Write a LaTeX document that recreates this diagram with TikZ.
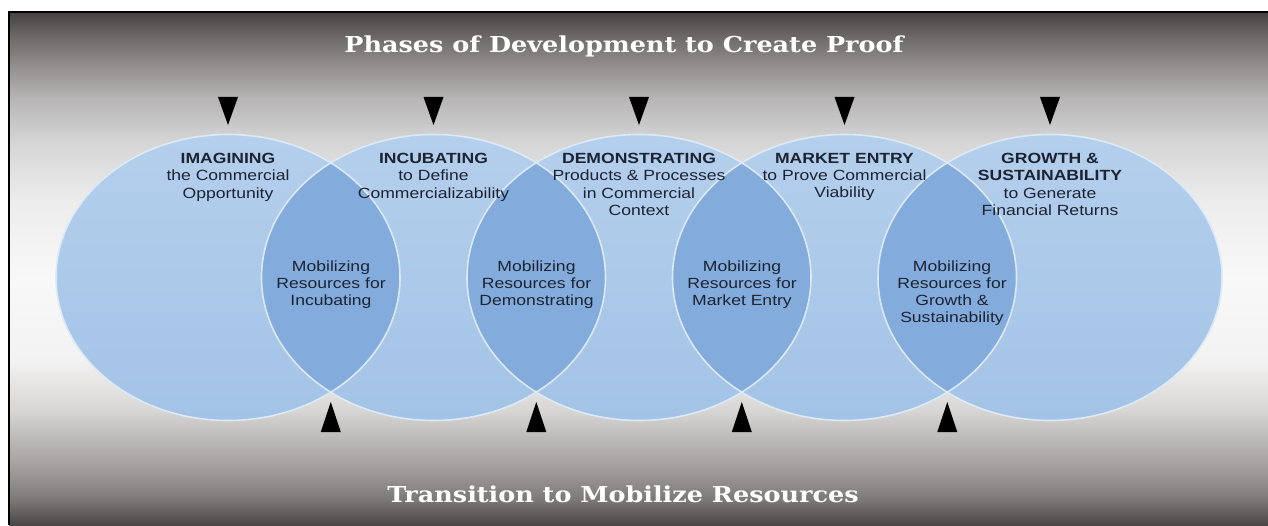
\documentclass[tikz,border=0pt]{standalone}
\usepackage{fontspec}
\setmainfont{Liberation Sans}[FakeStretch=1.19]
\newfontfamily\titlefont{DejaVu Serif}[FakeStretch=1.16]
\usepackage{xcolor}
\usetikzlibrary{calc, positioning}

\definecolor{bg0}{HTML}{4A4646}
\definecolor{bg1}{HTML}{7C7878}
\definecolor{bg2}{HTML}{A09C9C}
\definecolor{bg3}{HTML}{BAB8B6}
\definecolor{bg4}{HTML}{D8D6D4}
\definecolor{bg5}{HTML}{F2F2F2}
\definecolor{bg6}{HTML}{F8F8F8}
\definecolor{bg7}{HTML}{ECECEC}
\definecolor{bg8}{HTML}{D4D4D4}
\definecolor{bg9}{HTML}{B8B6B6}
\definecolor{bg10}{HTML}{979393}
\definecolor{bg11}{HTML}{726E6E}
\definecolor{bg12}{HTML}{464242}
\definecolor{phasetop}{HTML}{B4CFEC}
\definecolor{phasebot}{HTML}{A3C3E6}
\definecolor{lensblue}{HTML}{83ACDC}
\definecolor{rimc}{HTML}{DCE9F6}
\definecolor{inkc}{HTML}{1C2433}

\pgfdeclareverticalshading{backdrop}{100bp}{color(0bp)=(bg0); color(25bp)=(bg0);
  color(27.44bp)=(bg1); color(30.36bp)=(bg2); color(33.28bp)=(bg3);
  color(36.21bp)=(bg4); color(41.08bp)=(bg5); color(48.88bp)=(bg6);
  color(56.68bp)=(bg7); color(62.52bp)=(bg8); color(66.42bp)=(bg9);
  color(69.35bp)=(bg10); color(72.27bp)=(bg11); color(75bp)=(bg12); color(100bp)=(bg12)}

\tikzset{
    phase/.style={top color=phasetop, bottom color=phasebot},
    lens/.style={fill=lensblue},
    rim/.style={draw=rimc, line width=0.9pt},
    marker/.style={fill=black},
    frame/.style={draw=black, line width=1.2pt},
    phasetext/.style={align=center, font=\fontsize{8.4}{9.8}\selectfont, text=inkc, inner sep=0pt, anchor=north},
    banner/.style={font=\titlefont\bfseries\fontsize{12.5}{14}\selectfont, text=white, inner sep=0pt}
}

\begin{document}
\begin{tikzpicture}[x=0.02cm, y=0.02cm]
    \useasboundingbox (0,0) rectangle (1268,525);
    \shade[shading=backdrop] (9,0) rectangle (1268,513);
    \draw[frame] (9,0) -- (9,513) -- (1268,513);

    % Phases
    \foreach \i in {1,...,5} {
        \coordinate (c\i) at ({228+205.5*(\i-1)}, 247.5);
    }
    \foreach \i in {1,...,5} {
        \shade[phase] (c\i) ellipse [x radius=172, y radius=143];
    }
    \foreach \i/\j in {1/2, 2/3, 3/4, 4/5} {
        \begin{scope}
            \clip (c\i) ellipse [x radius=172, y radius=143];
            \fill[lens] (c\j) ellipse [x radius=172, y radius=143];
        \end{scope}
    }
    \foreach \i in {1,...,5} {
        \draw[rim] (c\i) ellipse [x radius=172, y radius=143];
    }

    % Markers
    \foreach \i in {1,...,5} {
        \fill[marker] ($(c\i)+(0,152.5)$) -- ++(-10,28) -- ++(20,0) -- cycle;
    }
    \foreach \i/\j in {1/2, 2/3, 3/4, 4/5} {
        \coordinate (m\i) at ($(c\i)!0.5!(c\j)+(0,-124.5)$);
        \fill[marker] (m\i) -- ++(-10,-30) -- ++(20,0) -- cycle;
    }

    % Labels
    \node[banner] (top) at (624,479) {Phases of Development to Create Proof};
    \node[banner] (bottom) at (623,31) {Transition to Mobilize Resources};

    \node[phasetext] (imagine) at (228,372) {\textbf{IMAGINING}\\the Commercial\\Opportunity};
    \node[phasetext] (incubate) at (433.5,372) {\textbf{INCUBATING}\\to Define\\Commercializability};
    \node[phasetext] (demo) at (639,372) {\textbf{DEMONSTRATING}\\Products \& Processes\\in Commercial\\Context};
    \node[phasetext] (entry) at (844.5,372) {\textbf{MARKET ENTRY}\\to Prove Commercial\\Viability};
    \node[phasetext] (growth) at (1050,372) {\textbf{GROWTH \&}\\\textbf{SUSTAINABILITY}\\to Generate\\Financial Returns};

    \node[phasetext] (mob1) at (331,265) {Mobilizing\\Resources for\\Incubating};
    \node[phasetext] (mob2) at (536.5,265) {Mobilizing\\Resources for\\Demonstrating};
    \node[phasetext] (mob3) at (742,265) {Mobilizing\\Resources for\\Market Entry};
    \node[phasetext] (mob4) at (952,265) {Mobilizing\\Resources for\\Growth \&\\Sustainability};
\end{tikzpicture}
\end{document}
